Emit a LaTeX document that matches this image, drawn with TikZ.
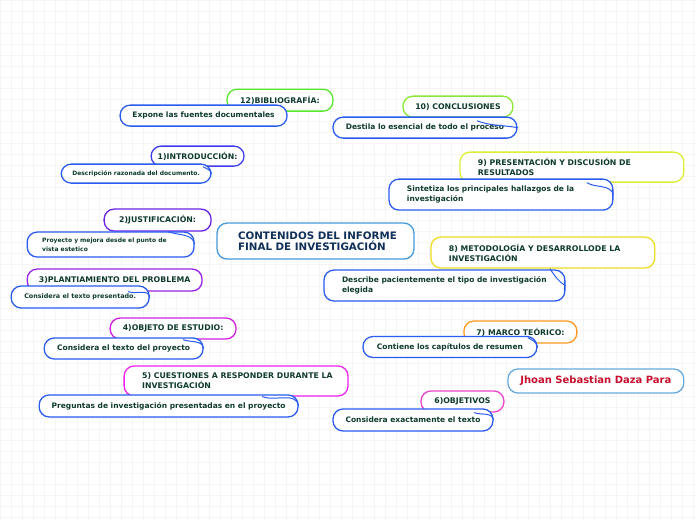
\documentclass[tikz,border=0pt]{standalone}
\usepackage{fontspec}
\setmainfont{DejaVu Sans}
\hbadness=10000 \hfuzz=100pt
\definecolor{txt}{HTML}{0E3B2C}
\definecolor{ttl}{HTML}{10305A}
\definecolor{jred}{HTML}{C8102E}
\definecolor{subblue}{HTML}{2A5CF0}
\definecolor{cgreen}{HTML}{55E82A}
\definecolor{cindigo}{HTML}{3D3DEE}
\definecolor{cviolet}{HTML}{6A22E8}
\definecolor{cpurple}{HTML}{9A22E6}
\definecolor{cmag}{HTML}{D020E0}
\definecolor{cmag2}{HTML}{EE22EE}
\definecolor{cpink}{HTML}{EE44CC}
\definecolor{corange}{HTML}{FF9922}
\definecolor{cyellow}{HTML}{EEDD22}
\definecolor{cyelgreen}{HTML}{DDEE33}
\definecolor{clgreen}{HTML}{88E833}
\definecolor{cblue}{HTML}{4499DD}
\definecolor{cjblue}{HTML}{66AADD}
\tikzset{
  topic/.style={draw=#1, line width=1.3pt, rounded corners=10pt, fill=white,
    text=txt, font=\fontsize{7.8}{9.8}\selectfont\bfseries, inner sep=0pt, align=center},
  sub/.style={draw=subblue, line width=1.3pt, rounded corners=10pt, fill=white,
    text=txt, font=\fontsize{7.5}{9.8}\selectfont\bfseries, inner sep=0pt, align=center},
  smallsub/.style={sub, font=\fontsize{6}{8.5}\selectfont\bfseries},
  conn/.style={draw=subblue, line width=1pt},
}
\begin{document}
\begin{tikzpicture}[x=1pt,y=-1pt]
\fill[white] (0,0) rectangle (696,520);
\draw[step=11pt, black!4, line width=0.4pt] (0,0) grid (696,520);
\useasboundingbox (0,0) rectangle (696,520);

% central
\node[topic=cblue, font=\fontsize{10.3}{11.5}\selectfont\bfseries, text=ttl, align=flush left,
  text width=155pt, inner xsep=21pt, minimum height=36pt] (C) at (315.5,241)
  {\mbox{CONTENIDOS DEL INFORME}\\\mbox{FINAL DE INVESTIGACIÓN}};
\node[topic=cjblue, font=\fontsize{10}{12}\selectfont\bfseries, text=jred,
  minimum width=176pt, minimum height=24pt] (J) at (596,381) {Jhoan Sebastian Daza Para};

% topics
\node[topic=cgreen, minimum width=106pt, minimum height=22pt] (T12) at (280,100) {12)BIBLIOGRAFÍA:};
\node[topic=cindigo, minimum width=93pt, minimum height=20pt] (T1) at (197.5,156) {1)INTRODUCCIÓN:};
\node[topic=cviolet, minimum width=107pt, minimum height=22pt] (T2) at (157.5,220) {2)JUSTIFICACIÓN:};
\node[topic=cpurple, minimum width=175pt, minimum height=22pt] (T3) at (114.5,280) {3)PLANTIAMIENTO DEL PROBLEMA};
\node[topic=cmag, minimum width=126pt, minimum height=21pt] (T4) at (173,328.5) {4)OBJETO DE ESTUDIO:};
\node[topic=cmag2, align=flush left, text width=188pt, inner xsep=18pt, minimum height=30pt] (T5) at (236,381)
  {\mbox{5) CUESTIONES A RESPONDER DURANTE LA}\\\mbox{INVESTIGACIÓN}};
\node[topic=cpink, minimum width=83pt, minimum height=21pt] (T6) at (462.5,401.5) {6)OBJETIVOS};
\node[topic=corange, minimum width=113pt, minimum height=22pt] (T7) at (520.5,332) {7) MARCO TEÓRICO:};
\node[topic=cyellow, align=flush left, text width=188pt, inner xsep=18pt, minimum height=31pt] (T8) at (543,252.5)
  {\mbox{8) METODOLOGÍA Y DESARROLLODE LA}\\\mbox{INVESTIGACIÓN}};
\node[topic=cyelgreen, align=flush left, text width=188pt, inner xsep=18pt, minimum height=30pt] (T9) at (572,167)
  {\mbox{9) PRESENTACIÓN Y DISCUSIÓN DE}\\\mbox{RESULTADOS}};
\node[topic=clgreen, minimum width=110pt, minimum height=21pt] (T10) at (458,106.5) {10) CONCLUSIONES};

% subtopics
\node[sub, minimum width=167pt, minimum height=21pt] (S12) at (203.5,115.5) {Expone las fuentes documentales};
\node[smallsub, minimum width=150pt, minimum height=19pt] (S1) at (136,173.5) {Descripción razonada del documento.};
\node[smallsub, align=flush left, text width=137pt, inner xsep=15pt, minimum height=25pt] (S2) at (110.5,244.5)
  {\mbox{Proyecto y mejora desde el punto de}\\\mbox{vista estetico}};
\node[sub, font=\fontsize{6.4}{8}\selectfont\bfseries, minimum width=138pt, minimum height=22pt] (S3) at (80,297) {Considera el texto presentado.};
\node[sub, minimum width=159pt, minimum height=21pt] (S4) at (123.5,348.5) {Considera el texto del proyecto};
\node[sub, minimum width=259pt, minimum height=22pt] (S5) at (168.5,406) {Preguntas de investigación presentadas en el proyecto};
\node[sub, minimum width=160pt, minimum height=22pt] (S6) at (413,420) {Considera exactamente el texto};
\node[sub, minimum width=174pt, minimum height=21pt] (S7) at (450,347) {Contiene los capítulos de resumen};
\node[sub, align=flush left, text width=205pt, inner xsep=18pt, minimum height=31pt] (S8) at (444.5,285.5)
  {\mbox{Describe pacientemente el tipo de investigación}\\\mbox{elegida}};
\node[sub, align=flush left, text width=188pt, inner xsep=18pt, minimum height=31pt] (S9) at (501,194.5)
  {\mbox{Sintetiza los principales hallazgos de la}\\\mbox{investigación}};
\node[sub, minimum width=184pt, minimum height=21pt] (S10) at (425,127.5) {Destila lo esencial de todo el proceso};

% connectors
\draw[conn] ([xshift=5.5pt]T1.south) to[out=-30,in=110] (S1.east);
\draw[conn] ([xshift=10.5pt]T2.south) to[out=-20,in=100] (S2.east);
\draw[conn] ([xshift=13.5pt]T3.south) to[out=-20,in=100] (S3.east);
\draw[conn] ([xshift=10pt]T4.south) to[out=-20,in=100] (S4.east);
\draw[conn] ([xshift=26pt]T5.south) to[out=-20,in=100] (S5.east);
\draw[conn] ([xshift=11.5pt]T6.south) to[out=-20,in=100] (S6.east);
\draw[conn] ([xshift=7.5pt,yshift=6pt]T7.south) to[out=-30,in=100] (S7.east);
\draw[conn] ([xshift=7pt]T8.south) to[out=-55,in=150] (S8.east);
\draw[conn] ([xshift=15pt]T9.south) to[out=-30,in=110] (S9.east);
\draw[conn] ([xshift=19pt,yshift=-3pt]T10.south) to[out=-20,in=170] (S10.east);
\end{tikzpicture}
\end{document}
